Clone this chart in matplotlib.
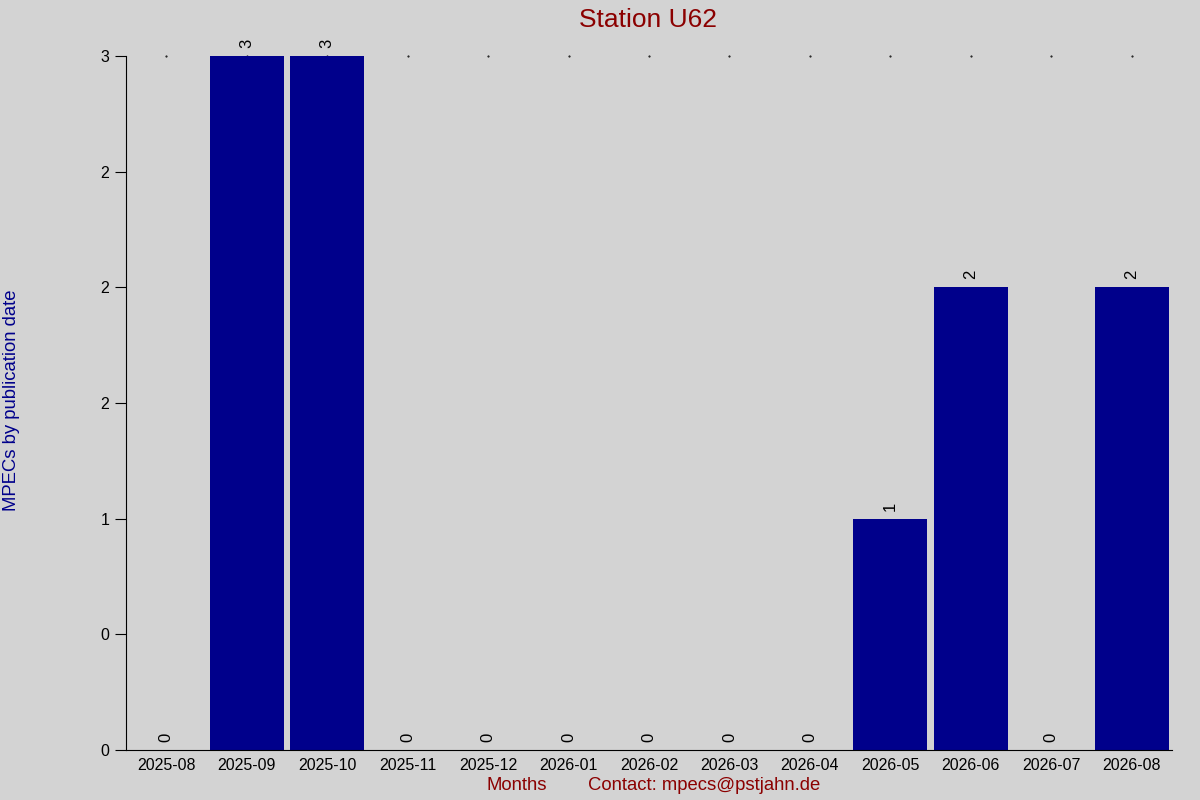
import matplotlib.pyplot as plt
import numpy as np

plt.rcParams['font.family'] = ['Liberation Sans', 'DejaVu Sans']

months = ["2025-08", "2025-09", "2025-10", "2025-11", "2025-12", "2026-01", "2026-02",
          "2026-03", "2026-04", "2026-05", "2026-06", "2026-07", "2026-08"]
mpecs = [0, 3, 3, 0, 0, 0, 0, 0, 0, 1, 2, 0, 2]

bg = '#d3d3d3'
fig = plt.figure(figsize=(12, 8), dpi=100, facecolor=bg)
ax = fig.add_axes([0.105, 0.0625, 0.8717, 0.8675], facecolor=bg)

xx = np.arange(len(months))
# tiny dots along the top, as in the original (hidden behind full bars)
ax.plot(xx, [max(mpecs)] * len(xx), ls='none', marker='.', markersize=1, color='black',
        clip_on=False, zorder=1)
ax.bar(xx, mpecs, width=0.92, color='#00008b', zorder=2)
for i, v in enumerate(mpecs):
    ax.text(i, v + 0.035, str(v), rotation=90, ha='center', va='bottom', fontsize=12,
            clip_on=False)

ax.set_xlim(-0.5, len(months) - 0.5)
ax.set_ylim(0, max(mpecs))
ax.set_xticks(xx)
ax.set_xticklabels(months, fontsize=11.5)
yt = np.arange(0, max(mpecs) + 0.01, 0.5)
ax.set_yticks(yt)
ax.set_yticklabels(["%.0f" % t for t in yt], fontsize=11.5)
ax.tick_params(axis='x', length=0, pad=6)
ax.tick_params(axis='y', length=8, pad=4)
ax.spines['top'].set_visible(False)
ax.spines['right'].set_visible(False)

fig.text(0.54, 0.975, "Station U62", color='#8b0000', fontsize=19, ha='center', va='center')
fig.text(0.431, 0.0175, "Months", color='#8b0000', fontsize=13.3, ha='center', va='center')
fig.text(0.587, 0.0175, "Contact: mpecs@pstjahn.de", color='#8b0000', fontsize=13.3,
         ha='center', va='center')
fig.text(0.0095, 0.5, "MPECs by publication date", color='#00008b', fontsize=13.3, rotation=90,
         ha='center', va='center')

plt.savefig("out.png", facecolor=bg)
